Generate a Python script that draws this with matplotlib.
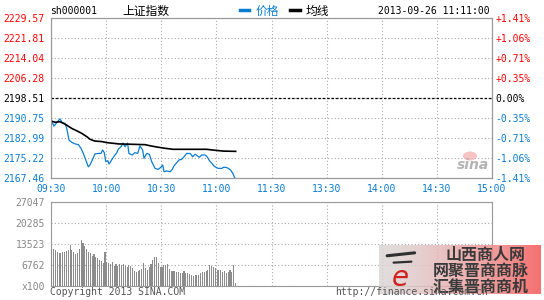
import numpy as np
import matplotlib.pyplot as plt
from matplotlib.patches import Ellipse

# minutes after 09:30 (lunch break squeezed out)
price_t = [0, 1.6, 3.1, 4.9, 6.1, 7.6, 8.5, 9.8, 11.3, 13.1, 14.9, 16.3, 17.6, 18.9,
           20.3, 21.2, 22.5, 23.9, 25.7, 27.2, 28.1, 29.0, 29.8, 30.9, 31.6, 33.0,
           34.4, 35.8, 36.6, 38.1, 39.2, 40.3, 41.7, 42.4, 44.2, 45.7, 47.2, 48.4,
           49.9, 50.6, 52.1, 53.5, 54.8, 56.6, 58.4, 59.7, 60.8, 61.5, 62.9, 64.8,
           66.0, 66.9, 68.4, 69.8, 71.1, 72.4, 73.8, 75.3, 76.0, 77.1, 78.4, 79.6,
           80.7, 82.0, 83.8, 85.0, 86.2, 87.5, 88.7, 89.8, 91.0, 92.9, 93.8, 95.2,
           96.5, 97.8, 98.9, 100.1]
price = [2190.0, 2187.6, 2188.9, 2190.4, 2188.9, 2188.7, 2186.9, 2182.2, 2181.3, 2180.7,
         2180.4, 2179.0, 2177.0, 2174.5, 2171.8, 2172.5, 2174.5, 2176.8, 2177.0, 2177.0,
         2178.3, 2177.3, 2173.8, 2174.2, 2172.9, 2174.5, 2176.0, 2177.3, 2178.6, 2179.6,
         2181.0, 2179.6, 2181.0, 2177.0, 2176.4, 2177.3, 2177.0, 2179.9, 2178.3, 2175.1,
         2177.0, 2176.7, 2173.8, 2171.2, 2170.8, 2171.6, 2172.5, 2169.9, 2170.2, 2169.9,
         2170.8, 2172.1, 2173.4, 2174.5, 2174.7, 2175.7, 2177.0, 2177.0, 2176.8, 2175.7,
         2176.7, 2176.1, 2175.5, 2176.4, 2176.4, 2175.7, 2174.2, 2173.2, 2172.1, 2171.6,
         2171.2, 2171.2, 2171.6, 2171.6, 2171.2, 2170.5, 2169.3, 2167.3]

avg_t = [0, 2.2, 4.9, 6.7, 8.5, 11.3, 14.0, 16.7, 19.5, 21.2, 23.9, 27.6, 30.3, 33.0,
         36.6, 51.2, 54.4, 58.4, 62.0, 66.5, 75.6, 84.7, 88.3, 93.8, 100.5]
avg = [2189.6, 2189.1, 2189.3, 2188.7, 2188.0, 2186.7, 2185.8, 2184.8, 2183.5, 2182.5,
       2181.8, 2181.6, 2181.2, 2181.0, 2180.7, 2180.4, 2179.9, 2179.4, 2179.0, 2178.6,
       2178.6, 2178.6, 2178.3, 2177.9, 2177.8]

# one bar per minute, in lots of 100
volume = [12050, 12050, 11620, 11080, 10540, 10760, 11080, 10870, 11190, 11620,
          13230, 11620, 10870, 10330, 10540, 11940, 14960, 13880, 13020, 11940,
          10870, 10540, 9790, 10330, 9470, 9040, 8390, 7960, 7420, 11080,
          7640, 7320, 7100, 7640, 6560, 7100, 6560, 7100, 6890, 7100,
          6350, 6030, 6780, 6560, 5700, 4950, 4630, 4950, 5270, 5380,
          7530, 5810, 5160, 6030, 7100, 8390, 9460, 9250, 7320, 6240,
          6030, 6780, 6890, 7100, 5490, 4740, 4950, 4950, 4410, 4410,
          4090, 4090, 4950, 4200, 4200, 3870, 3550, 3330, 3550, 3550,
          3550, 4090, 4410, 4410, 4740, 5160, 6780, 6560, 6030, 5700,
          5160, 5160, 5160, 4410, 4740, 4200, 4630, 5160, 4630, 6780, 860]

prev_close = 2198.51
price_ticks = [2167.46, 2175.22, 2182.99, 2190.75, 2198.51, 2206.28, 2214.04, 2221.81, 2229.57]
pct_labels = ['-1.41%', '-1.06%', '-0.71%', '-0.35%', '0.00%', '+0.35%', '+0.71%', '+1.06%', '+1.41%']
vol_ticks = [0, 6762, 13523, 20285, 27047]
vol_labels = ['x100', '6762', '13523', '20285', '27047']
time_ticks = [0, 30, 60, 90, 120, 150, 180, 210, 240]
time_labels = ['09:30', '10:00', '10:30', '11:00', '11:30', '13:30', '14:00', '14:30', '15:00']

RED = '#ff0000'
BLUE = '#0b7dd1'
GRAY = '#999999'
GRID = '#aaaaaa'
MONO = ['DejaVu Sans Mono']
CJK = ['Noto Sans CJK SC', 'DejaVu Sans']
W, H = 544, 300


def fx(x):
    return x / W


def fy(y):
    return 1 - y / H


def tick_color(v):
    if abs(v - prev_close) < 0.005:
        return 'black'
    return RED if v > prev_close else BLUE


fig = plt.figure(figsize=(5.44, 3.0), dpi=100)

# ---- price panel
ax = fig.add_axes([fx(51), fy(178), fx(441), 160 / H])
ax.set_xlim(0, 240)
ax.set_ylim(price_ticks[0], price_ticks[-1])
ax.set_xticks(time_ticks)
ax.set_xticklabels(time_labels, family=MONO, fontsize=7, color=BLUE)
ax.set_yticks(price_ticks)
ax.set_yticklabels(['%.2f' % v for v in price_ticks], family=MONO, fontsize=7)
for lab, v in zip(ax.get_yticklabels(), price_ticks):
    lab.set_color(tick_color(v))
ax.tick_params(length=0, pad=4.5)
ax.tick_params(axis='x', pad=4)
ax.grid(True, color=GRID, linestyle=(0, (1, 2)), linewidth=0.8)
ax.axhline(prev_close, color='black', linestyle=(0, (2, 1.5)), linewidth=0.9, zorder=2)
for s in ax.spines.values():
    s.set_color(GRAY)
ax.plot(price_t, price, color=BLUE, linewidth=0.9, zorder=3)
ax.plot(avg_t, avg, color='black', linewidth=1.2, zorder=4)

ax2 = ax.twinx()
ax2.set_ylim(ax.get_ylim())
ax2.set_yticks(price_ticks)
ax2.set_yticklabels(pct_labels, family=MONO, fontsize=7)
for lab, v in zip(ax2.get_yticklabels(), price_ticks):
    lab.set_color(tick_color(v))
ax2.tick_params(length=0, pad=2.5)
for s in ax2.spines.values():
    s.set_color(GRAY)

# sina mark
fig.text(fx(473), fy(165), 'sina', fontsize=10, fontstyle='italic', fontweight='bold',
         color='#b4b4b4', ha='center', va='center')
fig.add_artist(Ellipse((fx(470), fy(156)), 14 / W, 9 / H, transform=fig.transFigure,
                       facecolor='#f6b4b4', edgecolor='none', alpha=0.8))

# ---- volume panel
axv = fig.add_axes([fx(51), fy(286), fx(441), 84 / H])
axv.set_xlim(0, 240)
axv.set_ylim(0, vol_ticks[-1])
axv.bar(np.arange(len(volume)) + 0.4, volume, width=0.6, color='#8c8c8c', zorder=3)
axv.set_xticks(time_ticks)
axv.set_xticklabels([])
axv.set_yticks(vol_ticks)
axv.set_yticklabels(vol_labels, family=MONO, fontsize=7, color='#888888')
axv.tick_params(length=0, pad=4.5)
axv.grid(True, color=GRID, linestyle=(0, (1, 2)), linewidth=0.8, zorder=0)
for s in axv.spines.values():
    s.set_color(GRAY)

# ---- header
fig.text(fx(50), fy(11), 'sh000001', family=MONO, fontsize=7, va='center')
fig.text(fx(122), fy(11), '上证指数', family=CJK, fontsize=8.5, va='center')
fig.add_artist(plt.Line2D([fx(240), fx(249)], [fy(10), fy(10)], color=BLUE, linewidth=2.5))
fig.text(fx(256), fy(11), '价格', family=CJK, fontsize=8.5, va='center', color=BLUE)
fig.add_artist(plt.Line2D([fx(290), fx(300)], [fy(10), fy(10)], color='black', linewidth=2.5))
fig.text(fx(306), fy(11), '均线', family=CJK, fontsize=8.5, va='center')
fig.text(fx(490), fy(11), '2013-09-26 11:11:00', family=MONO, fontsize=7, va='center', ha='right')

# ---- footer
fig.text(fx(50), fy(292), 'Copyright 2013 SINA.COM', family=MONO, fontsize=7,
         va='center', color='#555555')
fig.text(fx(335), fy(292), 'http://finance.sina.com.cn', family=MONO, fontsize=7,
         va='center', color='#555555')

# watermark block, bottom right (it sits over the url, as in the original)
axw = fig.add_axes([fx(379), fy(294), fx(162), 49 / H])
grad = np.linspace(0, 1, 200)
rgb = np.zeros((20, 200, 3))
rgb[:, :, 0] = 0.86 + 0.10 * grad
rgb[:, :, 1] = 0.84 - 0.50 * grad ** 1.5
rgb[:, :, 2] = 0.84 - 0.50 * grad ** 1.5
axw.imshow(rgb, aspect='auto', extent=[0, 1, 0, 1], alpha=0.85)
axw.set_xlim(0, 1)
axw.set_ylim(0, 1)
axw.axis('off')
# brush stroke above the logo letter
axw.plot([0.05, 0.22], [0.78, 0.84], color='#303030', linewidth=2.2, solid_capstyle='round')
axw.plot([0.09, 0.20], [0.64, 0.66], color='#303030', linewidth=1.6, solid_capstyle='round')
axw.text(0.13, 0.32, 'e', fontsize=20, fontstyle='italic', color='#d02020',
         ha='center', va='center')
axw.text(0.66, 0.80, '山西商人网', family=CJK, fontsize=11.5, fontweight='bold',
         color='#3a3a3a', ha='center', va='center')
axw.text(0.63, 0.48, '网聚晋商商脉', family=CJK, fontsize=11.5, fontweight='bold',
         color='#3a3a3a', ha='center', va='center')
axw.text(0.63, 0.15, '汇集晋商商机', family=CJK, fontsize=11.5, fontweight='bold',
         color='#3a3a3a', ha='center', va='center')

fig.savefig('out.png', dpi=100)
plt.close(fig)
